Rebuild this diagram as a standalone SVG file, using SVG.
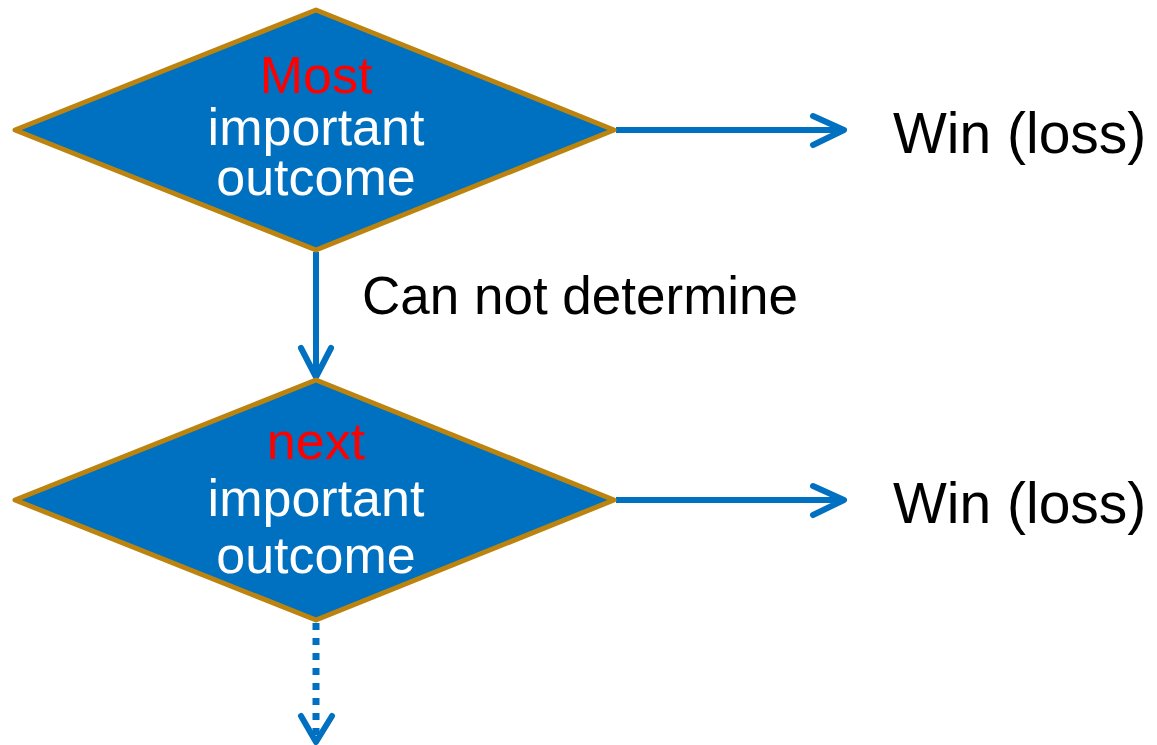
<svg xmlns="http://www.w3.org/2000/svg" width="1157" height="745" viewBox="0 0 1157 745">
<style>
.dia{fill:#0070C0;stroke:#BC840E;stroke-width:5;stroke-linejoin:round}
.t{font-family:"Liberation Sans",Arial,sans-serif;text-anchor:middle}
.red{fill:#FF0000;font-size:52px}
.wht{fill:#FFFFFF;font-size:52px}
.lbl{font-family:"Liberation Sans",Arial,sans-serif;fill:#000;font-size:53px}
.win{font-family:"Liberation Sans",Arial,sans-serif;fill:#000;font-size:57px}
.c{stroke:#0070C0;stroke-width:6;fill:none;stroke-linecap:round;stroke-linejoin:round}
</style>
<rect width="1157" height="745" fill="#FFFFFF"/>
<g id="connectors">
  <line class="c" x1="616" y1="130" x2="843" y2="130" style="stroke-linecap:butt"/>
  <polyline class="c" points="813,116 844,130 813,145"/>
  <line class="c" x1="316" y1="252" x2="316" y2="375" style="stroke-linecap:butt"/>
  <polyline class="c" points="301,348 316,377 331,348"/>
  <line class="c" x1="616" y1="500" x2="843" y2="500" style="stroke-linecap:butt"/>
  <polyline class="c" points="813,486 844,500 813,515"/>
  <line x1="316" y1="623" x2="316" y2="740" stroke="#0070C0" stroke-width="7" stroke-dasharray="7,8"/>
  <polyline class="c" points="301,716 316,742 332,716"/>
  <text class="lbl" x="362" y="314">Can not determine</text>
</g>
<g id="node-most">
  <polygon class="dia" points="316,10 614,130 316,250 15,130"/>
  <text class="t red" x="316" y="93">Most</text>
  <text class="t wht" x="316" y="145">important</text>
  <text class="t wht" x="316" y="195">outcome</text>
</g>
<g id="node-next">
  <polygon class="dia" points="316,380 614,500 316,620 15,500"/>
  <text class="t red" x="316" y="459">next</text>
  <text class="t wht" x="316" y="516">important</text>
  <text class="t wht" x="316" y="573">outcome</text>
</g>
<g id="win1">
  <text class="win" x="893" y="153">Win (loss)</text>
</g>
<g id="win2">
  <text class="win" x="893" y="523">Win (loss)</text>
</g>
</svg>
